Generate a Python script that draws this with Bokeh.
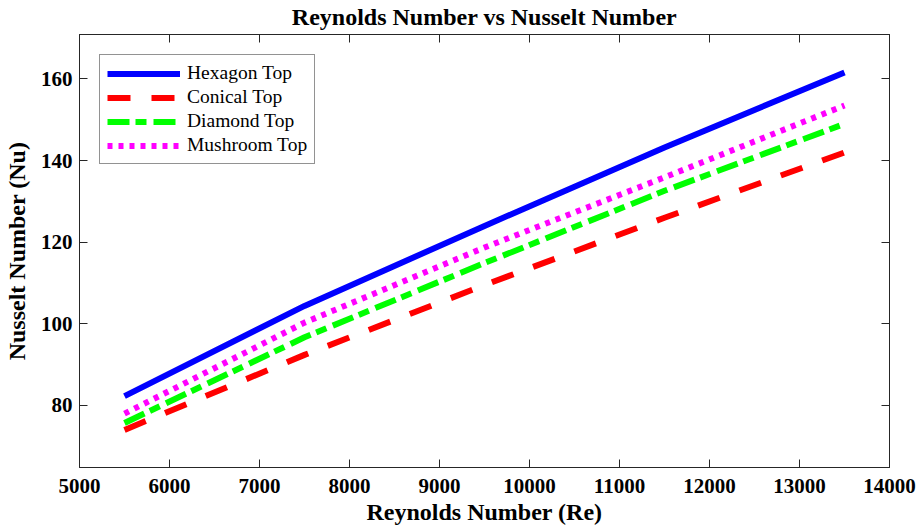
from bokeh.plotting import figure
from bokeh.models import (Range1d, LinearAxis, Legend, LegendItem, FixedTicker,
                          CustomLabelingPolicy)
from bokeh.embed import file_html
from bokeh.resources import INLINE

# Nusselt number against Reynolds number for four fin-top shapes
re_vals = [5500, 7500, 9500, 11500, 13500]
nu_hexagon = [82.3, 104.4, 124.0, 143.2, 161.6]
nu_conical = [74.0, 92.4, 109.5, 126.0, 142.0]
nu_diamond = [75.7, 96.7, 114.9, 132.6, 149.0]
nu_mushroom = [78.0, 100.3, 118.7, 135.9, 153.5]

x_ticks = [5000, 6000, 7000, 8000, 9000, 10000, 11000, 12000, 13000, 14000]
y_ticks = [80, 100, 120, 140, 160]

SERIF = "Liberation Serif"
AXIS_COLOR = "#262626"

p = figure(
    frame_width=810, frame_height=433,
    x_range=Range1d(5000, 14000), y_range=Range1d(64.8, 170.9),
    output_backend="svg", toolbar_location=None,
    min_border_left=79, min_border_right=32, min_border_top=34, min_border_bottom=65,
    background_fill_color="white", border_fill_color="white",
)

p.title.text = "Reynolds Number vs Nusselt Number"
p.title.text_font = SERIF
p.title.text_font_style = "bold"
p.title.text_font_size = "24px"
p.title.align = "center"
p.title.text_color = "black"
p.title.standoff = 1

p.xgrid.visible = False
p.ygrid.visible = False
p.outline_line_color = AXIS_COLOR
p.outline_line_width = 1

# the box axes on top and right carry tick marks only
no_labels = CustomLabelingPolicy(code="""
    const picked = [...indices]
    for (const i of picked)
        indices.unset(i)
    return indices
""")


def style_axis(ax, ticks, show_labels):
    ax.ticker = FixedTicker(ticks=ticks)
    ax.major_tick_in = 8
    ax.major_tick_out = 0
    ax.minor_tick_line_color = None
    ax.axis_line_color = AXIS_COLOR
    ax.major_tick_line_color = AXIS_COLOR
    if show_labels:
        ax.major_label_text_font = SERIF
        ax.major_label_text_font_style = "bold"
        ax.major_label_text_font_size = "21px"
        ax.major_label_text_color = "black"
        ax.axis_label_text_font = SERIF
        ax.axis_label_text_font_style = "bold"
        ax.axis_label_text_font_size = "24px"
        ax.axis_label_text_color = "black"
    else:
        ax.major_label_policy = no_labels
        ax.major_label_text_font_size = "1px"
        ax.major_label_standoff = 0


p.xaxis.axis_label = "Reynolds Number (Re)"
p.yaxis.axis_label = "Nusselt Number (Nu)"
style_axis(p.xaxis[0], x_ticks, True)
style_axis(p.yaxis[0], y_ticks, True)
p.xaxis[0].major_label_standoff = 11
p.xaxis[0].axis_label_standoff = 3
p.yaxis[0].major_label_standoff = 7
p.yaxis[0].axis_label_standoff = 8

top_axis = LinearAxis()
style_axis(top_axis, x_ticks, False)
p.add_layout(top_axis, "above")
right_axis = LinearAxis()
style_axis(right_axis, y_ticks, False)
p.add_layout(right_axis, "right")

r_hex = p.line(re_vals, nu_hexagon, line_color="#0000FF", line_width=6)
r_con = p.line(re_vals, nu_conical, line_color="#FF0000", line_width=6, line_dash="23 21")
r_dia = p.line(re_vals, nu_diamond, line_color="#00FF00", line_width=6, line_dash="22 6 11 7")
r_mus = p.line(re_vals, nu_mushroom, line_color="#FF00FF", line_width=6, line_dash="5 6")

legend = Legend(
    items=[
        LegendItem(label="Hexagon Top", renderers=[r_hex]),
        LegendItem(label="Conical Top", renderers=[r_con]),
        LegendItem(label="Diamond Top", renderers=[r_dia]),
        LegendItem(label="Mushroom Top", renderers=[r_mus]),
    ],
    location="top_left",
    margin=20,
    padding=7,
    spacing=2,
    glyph_width=73,
    glyph_height=21,
    label_height=21,
    label_standoff=7,
    label_text_font=SERIF,
    label_text_font_size="19.5px",
    label_text_color="black",
    border_line_color=AXIS_COLOR,
    border_line_width=1,
    background_fill_color="white",
    background_fill_alpha=1.0,
)
p.add_layout(legend)

open("out.html", "w").write(file_html(p, INLINE))
